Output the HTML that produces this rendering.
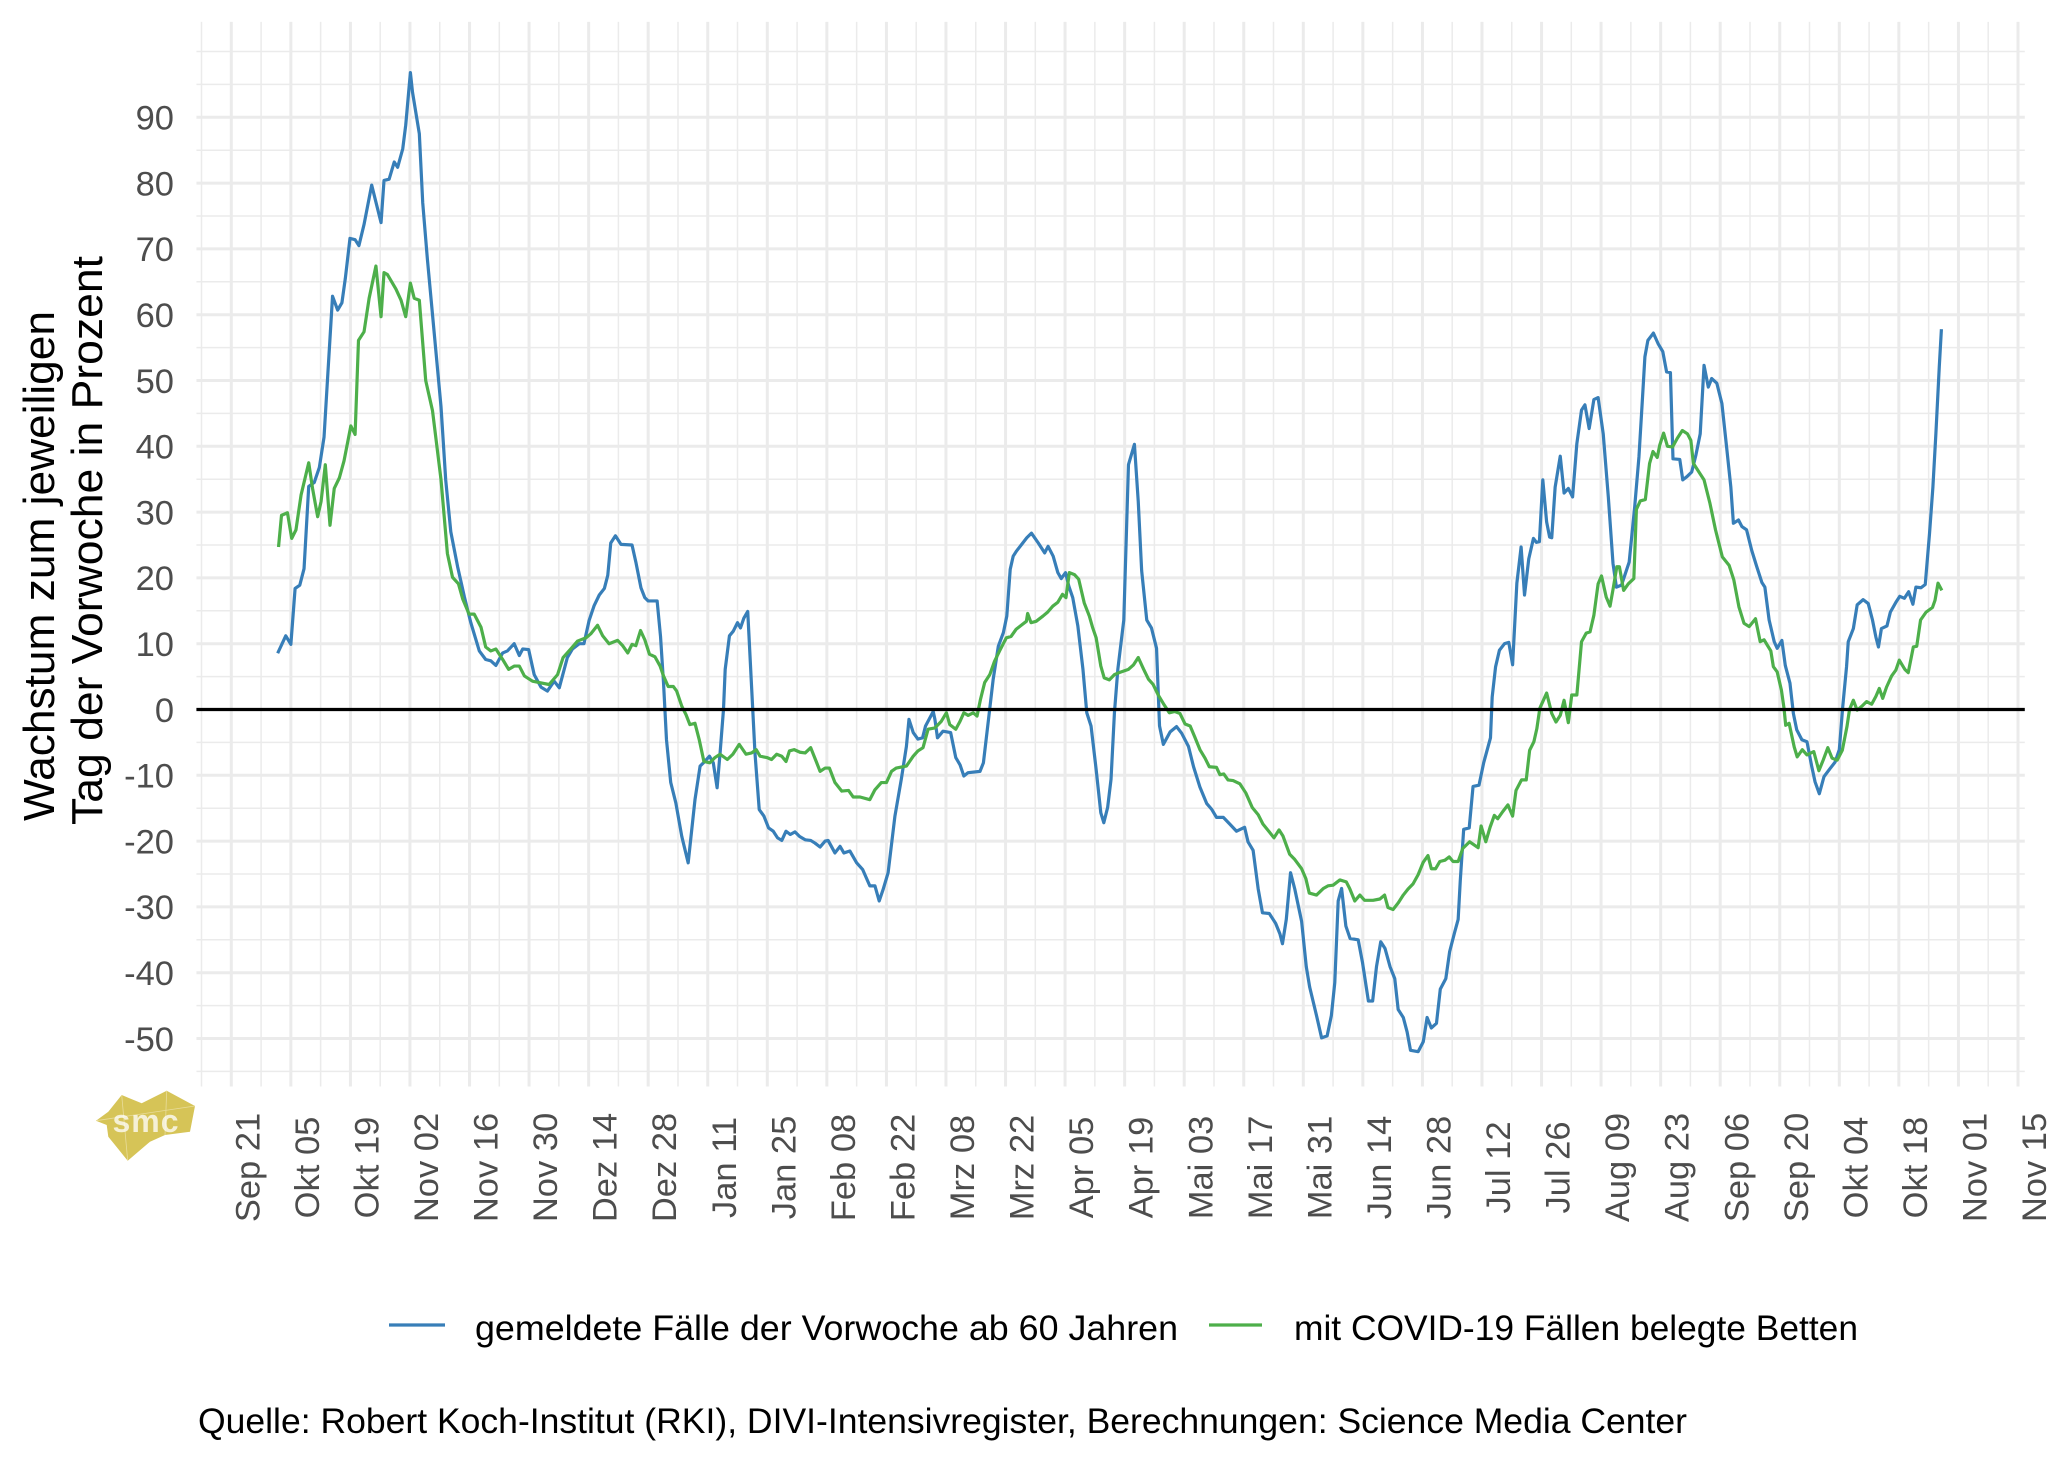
<!DOCTYPE html>
<html>
<head>
<meta charset="utf-8">
<style>
html,body{margin:0;padding:0;background:#fff;}
svg{display:block;}
text{font-family:"Liberation Sans",Arial,sans-serif;}
</style>
</head>
<body>
<svg width="2048" height="1462" viewBox="0 0 2048 1462" xmlns="http://www.w3.org/2000/svg">
<rect x="0" y="0" width="2048" height="1462" fill="#ffffff"/>

<g transform="translate(231.3 709.5) scale(4.254 -6.58)" fill="none">
  <!-- minor grid -->
  <path stroke="#ebebeb" stroke-width="1.5" vector-effect="non-scaling-stroke" d="M-8.2 100H421.6M-8.2 95H421.6M-8.2 85H421.6M-8.2 75H421.6M-8.2 65H421.6M-8.2 55H421.6M-8.2 45H421.6M-8.2 35H421.6M-8.2 25H421.6M-8.2 15H421.6M-8.2 5H421.6M-8.2 -5H421.6M-8.2 -15H421.6M-8.2 -25H421.6M-8.2 -35H421.6M-8.2 -45H421.6M-8.2 -55H421.6
  M-7 104.5V-57.3M7 104.5V-57.3M21 104.5V-57.3M35 104.5V-57.3M49 104.5V-57.3M63 104.5V-57.3M77 104.5V-57.3M91 104.5V-57.3M105 104.5V-57.3M119 104.5V-57.3M133 104.5V-57.3M147 104.5V-57.3M161 104.5V-57.3M175 104.5V-57.3M189 104.5V-57.3M203 104.5V-57.3M217 104.5V-57.3M231 104.5V-57.3M245 104.5V-57.3M259 104.5V-57.3M273 104.5V-57.3M287 104.5V-57.3M301 104.5V-57.3M315 104.5V-57.3M329 104.5V-57.3M343 104.5V-57.3M357 104.5V-57.3M371 104.5V-57.3M385 104.5V-57.3M399 104.5V-57.3M413 104.5V-57.3"/>
  <!-- major grid -->
  <path stroke="#ebebeb" stroke-width="3" vector-effect="non-scaling-stroke" d="M-8.2 90H421.6M-8.2 80H421.6M-8.2 70H421.6M-8.2 60H421.6M-8.2 50H421.6M-8.2 40H421.6M-8.2 30H421.6M-8.2 20H421.6M-8.2 10H421.6M-8.2 0H421.6M-8.2 -10H421.6M-8.2 -20H421.6M-8.2 -30H421.6M-8.2 -40H421.6M-8.2 -50H421.6
  M0 104.5V-57.3M14 104.5V-57.3M28 104.5V-57.3M42 104.5V-57.3M56 104.5V-57.3M70 104.5V-57.3M84 104.5V-57.3M98 104.5V-57.3M112 104.5V-57.3M126 104.5V-57.3M140 104.5V-57.3M154 104.5V-57.3M168 104.5V-57.3M182 104.5V-57.3M196 104.5V-57.3M210 104.5V-57.3M224 104.5V-57.3M238 104.5V-57.3M252 104.5V-57.3M266 104.5V-57.3M280 104.5V-57.3M294 104.5V-57.3M308 104.5V-57.3M322 104.5V-57.3M336 104.5V-57.3M350 104.5V-57.3M364 104.5V-57.3M378 104.5V-57.3M392 104.5V-57.3M406 104.5V-57.3M420 104.5V-57.3"/>

  <!-- blue series -->
  <polyline stroke="#377eb8" stroke-width="3.2" stroke-linejoin="round" stroke-linecap="butt" vector-effect="non-scaling-stroke" points="10.9,8.55 12.8,11.2 14,9.9 15,18.4 16.1,18.9 17.1,21.4 18.2,33.9 19.5,34.5 20.7,36.8 21.8,41.4 22.6,50 23.8,62.8 25,60.7 26,61.8 26.8,65.5 27.9,71.6 29.1,71.4 30,70.5 31.2,73.7 33,79.7 35.2,74 35.9,80.4 37.1,80.6 38.3,83.2 39.1,82.4 40.3,85.2 41,88.8 42.1,96.8 42.6,93.8 44.2,87.5 45,77 46.1,68.4 47.7,57.2 49.3,46 50.4,34.9 51.6,27 53.2,21.7 54.8,17.1 56.3,13.2 58.3,8.9 59.8,7.6 61,7.4 62.2,6.7 63.8,8.6 64.9,8.9 66.5,10 67.7,8.2 68.5,9.2 69.9,9.1 71.2,5.3 72.8,3.4 74.3,2.8 75.9,4.3 77.1,3.3 79,7.9 80.2,9.2 81.8,10 82.9,10 84.1,13.5 85.3,15.8 86.5,17.4 87.7,18.4 88.5,20.4 89.2,25.3 90.3,26.4 91.6,25.1 94.2,25 95.1,22.4 96.3,18.5 97.2,17 98,16.5 100.1,16.5 100.9,11.1 101.6,4.1 102.3,-4.6 103.3,-11.1 104.5,-14.2 105.9,-19.3 107.4,-23.3 109,-13.7 110.2,-8.6 111.3,-7.9 112.4,-7.1 113.3,-8.1 114.2,-11.9 114.9,-6.6 115.7,0 116.1,6.1 117.1,11.2 118,11.9 119,13.2 119.7,12.4 120.5,13.9 121.4,14.9 122.3,3.5 123.1,-6.6 124.1,-15.2 125.2,-16.2 126.3,-18 127.4,-18.5 128.4,-19.5 129.4,-19.9 130.4,-18.5 131.4,-19 132.5,-18.6 133.6,-19.3 134.9,-19.8 136.2,-19.9 137.2,-20.3 138.4,-20.9 139.6,-20 140.3,-19.9 141.9,-21.8 143.1,-20.8 144,-21.8 145.4,-21.5 147,-23.3 148.4,-24.3 150.1,-26.8 151.3,-26.8 152.3,-29.1 153.2,-27.4 154.4,-24.8 156,-16.2 157.5,-10.6 158.7,-5.6 159.3,-1.5 160.3,-3.5 161.4,-4.5 162.5,-4.3 163.2,-2.5 165,-0.3 165.4,-1.5 166,-4.3 167.3,-3.3 169.1,-3.5 170.3,-7.3 171.3,-8.4 172.2,-10.1 173.2,-9.6 176,-9.4 176.8,-8.1 178,-1.5 179.1,4.6 180.3,9.6 181.5,11.7 182.3,14.2 183.1,21.3 183.8,23.3 184.6,24.1 185.8,25.1 187,26.1 188.1,26.8 189.7,25.3 191.2,23.8 192,24.8 193.2,23.3 194.3,20.8 195.1,19.9 196.1,20.8 196.9,18.7 197.8,17 199,12.7 200.2,6.1 201.1,-0.5 202.1,-2.5 203.3,-9.1 204.4,-15.7 205.1,-17.2 206,-14.9 206.8,-10.6 207.6,-0.5 208.4,6.1 209.8,13.6 210.9,37.2 212.3,40.3 213.2,31.6 214,21.1 215.2,13.6 216.3,12.4 217.5,9.3 218.2,-2.5 219.1,-5.3 220.7,-3.4 222.2,-2.6 223.4,-3.6 225,-5.6 226.2,-8.7 227.7,-11.8 229.3,-14.3 230.5,-15.2 231.6,-16.4 233.2,-16.4 234.7,-17.4 236.3,-18.5 238.2,-17.9 239,-20.1 240.2,-21.4 241.4,-27.3 242.4,-30.9 244,-31 245.5,-32.5 246.5,-34.1 247.1,-35.6 248,-31.9 249,-24.8 250,-27.3 251.6,-32.2 252.7,-39.1 253.5,-42.2 255.1,-46.5 256.3,-49.9 257.6,-49.6 258.6,-46.5 259.4,-41.5 260.2,-29.1 261,-27.2 262,-32.9 263,-34.8 264.9,-35 265.9,-38.4 267.3,-44.3 268.3,-44.3 269.2,-39.1 270.2,-35.3 271.2,-36.3 272.4,-39.1 273.5,-40.9 274.3,-45.6 275.5,-46.8 276.4,-49 277.2,-51.8 279,-52 280.2,-50.5 281.1,-46.8 282.1,-48.4 283.3,-47.7 284.2,-42.5 285.5,-40.9 286.4,-36.8 287.6,-33.8 288.4,-31.9 288.9,-26 289.7,-18.2 291,-18 291.9,-11.7 293.3,-11.5 294.4,-8.1 296,-4.3 296.4,1.9 297.2,6.5 298.1,9 299.3,10 300.3,10.2 301.2,6.8 302.2,19.2 303.2,24.7 304,17.4 305,22.9 306.1,26 306.8,25.4 307.5,25.5 308.3,34.9 309.2,28.5 309.9,26.2 310.4,26.1 311.2,33.8 312.4,38.5 313.3,32.9 314.3,33.6 315.3,32.3 316.3,40.4 317.4,45.5 318.2,46.3 319.2,42.7 320.3,47.1 321.3,47.4 322.5,41.9 323.7,32.3 324.8,22.2 325.6,18.6 326.8,18.9 328.6,22.4 329.9,30.8 330.9,38.4 331.7,47 332.3,53.6 333,56.1 334.3,57.2 335.4,55.6 336.5,54.4 337.4,51.3 338.3,51.2 338.9,38.1 340.5,38 341.2,34.9 342.2,35.4 343.3,36.1 344.3,38.7 345.3,41.9 346.2,52.3 347.2,49 348,50.3 349.2,49.6 350.4,46.5 351.5,39.9 352.5,33.8 353.1,28.3 354.3,28.8 355.1,27.8 356.2,27.3 357.4,24.2 358.6,21.7 359.8,19.3 360.5,18.6 361.5,13.6 362.7,10.3 363.4,9.3 364.5,10.5 365.3,6.7 366.4,4 367.2,-0.6 368,-3.1 369.2,-4.6 370.4,-4.9 371.5,-8.6 372.3,-11 373.3,-12.8 374.4,-10.2 375.8,-9 377,-8 378,-6.1 378.8,0.4 379.7,6.5 380.1,10.3 381.3,12.3 382.2,15.9 383.6,16.7 384.8,16.1 385.8,13.6 386.6,11 387.2,9.5 387.9,12.3 389.2,12.7 390,14.8 391.4,16.4 392.2,17.2 393.3,16.9 394.3,17.9 395.3,16 396,18.6 397.2,18.5 398.2,19 399.2,26.7 400,33.8 400.7,41.9 401.5,52.1 402,57.8"/>

  <!-- green series -->
  <polyline stroke="#4daf4a" stroke-width="3.2" stroke-linejoin="round" stroke-linecap="butt" vector-effect="non-scaling-stroke" points="11.1,24.7 11.8,29.5 13.2,29.9 14.2,26 15.2,27.3 16.4,32.6 18.2,37.5 19.1,33.6 20.3,29.3 21.1,31.6 22.1,37.2 23.2,28 24.2,33.6 25.4,35.2 26.5,37.8 28.1,43.1 29.1,41.8 29.9,56.1 31.2,57.4 32.4,62.5 34,67.4 35.2,59.7 35.9,66.4 36.7,66.1 38.7,63.9 39.9,62.2 41,59.7 42.1,64.8 43,62.5 44.2,62.2 45.7,50 47.3,45.4 49.3,34.9 50.8,23.7 52,20.1 53.4,19.1 54.4,16.8 55.9,14.5 57.1,14.5 58.7,12.5 59.8,9.5 61,8.9 62.2,9.2 63.8,7.6 65.2,6.1 66.5,6.6 67.7,6.6 68.9,5.1 70.8,4.3 72.4,4.1 74.7,3.8 76.7,5.3 78,7.9 79.8,9.2 81.4,10.4 83.4,10.9 84.5,11.5 86.1,12.8 87.3,11.2 88.8,10 90.8,10.5 92,9.7 93.2,8.6 94.2,9.9 95.1,9.7 96.2,12 97.2,10.6 98.3,8.4 99.6,8 100.8,6.6 101.6,5.1 102.7,3.5 103.9,3.5 104.7,2.8 105.9,0.5 106.9,-0.8 107.8,-2.3 109,-2.1 110,-4.6 111.1,-7.9 112.5,-8.1 113.7,-7.3 114.9,-6.8 116.6,-7.6 117.9,-6.8 119.4,-5.3 121,-6.8 122.3,-6.6 123.4,-6.1 124.3,-7.1 125.9,-7.3 127,-7.6 128.2,-6.8 129.4,-7.1 130.4,-7.9 131.2,-6.3 132.3,-6.1 133.7,-6.5 134.9,-6.6 136.2,-5.8 137.5,-7.9 138.4,-9.4 139.6,-8.9 140.6,-8.9 141.9,-11.1 143.5,-12.4 145.1,-12.3 146.2,-13.3 147.8,-13.3 150.1,-13.7 151.3,-12.2 152.8,-11.1 154,-11.1 155.2,-9.4 156.3,-8.9 158.7,-8.6 160.3,-7.1 161.4,-6.3 162.6,-5.8 163.8,-3 165.4,-2.8 166.9,-1.8 168.1,-0.5 168.9,-2.3 170.3,-3 171.3,-1.8 172.2,-0.5 173.2,-0.9 174.4,-0.5 175.3,-1 176.1,1.5 177.1,4.1 178.3,5.3 179.4,7.3 180.6,8.9 182.2,10.9 183.3,11.1 184.5,12.2 185.7,12.8 186.9,13.4 187.2,14.6 188,13.2 189.2,13.4 190.8,14.2 191.9,14.8 193.1,15.7 194.3,16.3 195.4,17.5 196.2,17 197,20.8 198.2,20.5 199.2,19.8 200.5,16.2 201.7,14.2 202.5,12.4 203.3,10.9 204.4,6.6 205.2,4.8 206.4,4.5 207.6,5.3 208.7,5.6 210.9,6.1 212.1,6.8 213.2,7.9 214.4,6.2 215.6,4.6 216.7,3.8 217.9,2.2 219.1,0.9 220.5,-0.5 221.8,-0.3 223,-0.6 224.2,-2.2 225.4,-2.5 226.5,-4.2 227.7,-6.1 228.9,-7.4 229.9,-8.7 231.6,-8.8 232.4,-9.9 233.3,-9.8 234.3,-10.7 235.5,-10.8 237.1,-11.3 238.5,-12.7 240,-14.9 241.4,-16 242.5,-17.4 244,-18.6 245.1,-19.5 246.3,-18.3 247.2,-19.2 248.8,-22 250,-22.8 251.6,-24.2 252.6,-25.7 253.4,-27.9 255.1,-28.2 256.7,-27.2 257.8,-26.8 259,-26.7 260.6,-25.9 262.1,-26.2 262.9,-27.2 264.1,-29.1 265.3,-28.2 266.4,-29 268.4,-29 270,-28.8 271.1,-28.2 271.9,-30.1 273.1,-30.4 274.3,-29.4 275.5,-28.2 276.6,-27.3 277.8,-26.5 279,-25.1 280.2,-23.2 281.3,-22.2 282.1,-24.2 283.1,-24.2 284.1,-23.1 285.3,-22.9 286.3,-22.4 287.2,-23.1 288.4,-23.1 289.5,-21.1 291.1,-20.1 293.1,-21 293.8,-17.7 294.9,-20.1 295.9,-17.9 296.9,-16.1 297.7,-16.6 298.9,-15.5 300.1,-14.5 301.2,-16.2 302,-12.3 303.3,-10.7 304.4,-10.7 305.2,-6.2 306.2,-4.9 306.9,-2.9 307.6,0.2 309.2,2.5 310.4,-0.6 311.4,-1.9 312.4,-0.9 313.3,1.4 314.3,-2 315.1,2.2 316.3,2.2 317.4,10.3 318.5,11.6 319.4,11.8 320.3,14.3 321.3,19.1 322.1,20.3 323.2,17.1 324.1,15.7 324.9,18.6 325.7,21.7 326.3,21.7 327.3,18.1 328.4,19.1 329.7,19.9 330.3,30.4 331.2,31.7 332.4,31.9 333.4,37.4 334.2,39.2 335.2,38.3 335.8,40.2 336.7,42 337.6,40 338.8,39.9 339.9,41.2 341.1,42.4 342.3,41.9 343.1,40.9 343.7,37.4 345,36.1 346.2,34.9 347.6,31.3 348.9,27.3 350.5,23.2 352.1,21.9 353.2,19.7 354.4,15.6 355.6,13.1 356.8,12.6 358.3,13.8 359.4,10.3 360.3,10.6 361.9,8.9 362.5,6.5 363.4,5.7 364.4,2.9 365,0.2 365.4,-2.4 366.2,-2.1 367.4,-5.7 368.1,-7.2 369.3,-6.1 370.4,-6.9 372,-6.4 373.2,-9.3 374.2,-7.7 375.3,-5.8 376.3,-7.4 377.5,-7.7 378.7,-6.2 379.8,-2.6 380.4,0 381.3,1.4 382.2,-0.1 383.3,0.5 384.4,1.2 385.6,0.8 386.6,2 387.4,3.2 388.2,1.7 389.1,3.4 390.3,5.1 391.3,6 392.1,7.5 393.4,6.1 394.2,5.6 395.4,9.5 396.2,9.6 397.1,13.6 398.4,14.8 399.9,15.5 400.5,16.6 401.2,19.2 402.1,18.1"/>

  <!-- zero line -->
  <path stroke="#000000" stroke-width="3.2" vector-effect="non-scaling-stroke" d="M-8.2 0H421.6"/>
</g>

<!-- y tick labels -->
<g font-size="34.5" fill="#4d4d4d" text-anchor="end">
  <text x="174" y="129.6">90</text>
  <text x="174" y="195.4">80</text>
  <text x="174" y="261.2">70</text>
  <text x="174" y="327.0">60</text>
  <text x="174" y="392.8">50</text>
  <text x="174" y="458.6">40</text>
  <text x="174" y="524.4">30</text>
  <text x="174" y="590.2">20</text>
  <text x="174" y="656.0">10</text>
  <text x="174" y="721.8">0</text>
  <text x="174" y="787.6">-10</text>
  <text x="174" y="853.4">-20</text>
  <text x="174" y="919.2">-30</text>
  <text x="174" y="985.0">-40</text>
  <text x="174" y="1050.8">-50</text>
</g>

<!-- x tick labels -->
<g font-size="34.5" fill="#4d4d4d" text-anchor="middle">
  <text transform="translate(259.3 1167.5) rotate(-90)">Sep 21</text>
  <text transform="translate(318.9 1167.5) rotate(-90)">Okt 05</text>
  <text transform="translate(378.4 1167.5) rotate(-90)">Okt 19</text>
  <text transform="translate(438.0 1167.5) rotate(-90)">Nov 02</text>
  <text transform="translate(497.5 1167.5) rotate(-90)">Nov 16</text>
  <text transform="translate(557.1 1167.5) rotate(-90)">Nov 30</text>
  <text transform="translate(616.7 1167.5) rotate(-90)">Dez 14</text>
  <text transform="translate(676.2 1167.5) rotate(-90)">Dez 28</text>
  <text transform="translate(735.8 1167.5) rotate(-90)">Jan 11</text>
  <text transform="translate(795.3 1167.5) rotate(-90)">Jan 25</text>
  <text transform="translate(854.9 1167.5) rotate(-90)">Feb 08</text>
  <text transform="translate(914.5 1167.5) rotate(-90)">Feb 22</text>
  <text transform="translate(974.0 1167.5) rotate(-90)">Mrz 08</text>
  <text transform="translate(1033.6 1167.5) rotate(-90)">Mrz 22</text>
  <text transform="translate(1093.1 1167.5) rotate(-90)">Apr 05</text>
  <text transform="translate(1152.7 1167.5) rotate(-90)">Apr 19</text>
  <text transform="translate(1212.3 1167.5) rotate(-90)">Mai 03</text>
  <text transform="translate(1271.8 1167.5) rotate(-90)">Mai 17</text>
  <text transform="translate(1331.4 1167.5) rotate(-90)">Mai 31</text>
  <text transform="translate(1390.9 1167.5) rotate(-90)">Jun 14</text>
  <text transform="translate(1450.5 1167.5) rotate(-90)">Jun 28</text>
  <text transform="translate(1510.1 1167.5) rotate(-90)">Jul 12</text>
  <text transform="translate(1569.6 1167.5) rotate(-90)">Jul 26</text>
  <text transform="translate(1629.2 1167.5) rotate(-90)">Aug 09</text>
  <text transform="translate(1688.7 1167.5) rotate(-90)">Aug 23</text>
  <text transform="translate(1748.3 1167.5) rotate(-90)">Sep 06</text>
  <text transform="translate(1807.9 1167.5) rotate(-90)">Sep 20</text>
  <text transform="translate(1867.4 1167.5) rotate(-90)">Okt 04</text>
  <text transform="translate(1927.0 1167.5) rotate(-90)">Okt 18</text>
  <text transform="translate(1986.5 1167.5) rotate(-90)">Nov 01</text>
  <text transform="translate(2046.1 1167.5) rotate(-90)">Nov 15</text>
</g>

<!-- y axis title -->
<g font-size="44" fill="#000">
  <text transform="translate(54 821) rotate(-90)" textLength="510" lengthAdjust="spacingAndGlyphs">Wachstum zum jeweiligen</text>
  <text transform="translate(102 825) rotate(-90)" textLength="569" lengthAdjust="spacingAndGlyphs">Tag der Vorwoche in Prozent</text>
</g>

<!-- logo -->
<g>
  <polygon points="96,1120.7 108.3,1111.7 121.7,1095 141.7,1103.3 166.7,1090.7 195,1106 190,1131.7 165,1135 150,1141.7 127.7,1160.7 108.3,1136.7 106.7,1125" fill="#d6c457"/>
  <line x1="121.7" y1="1095" x2="127.7" y2="1160.7" stroke="#e8dc9a" stroke-width="0.8"/>
  <line x1="166.7" y1="1090.7" x2="165" y2="1135" stroke="#e8dc9a" stroke-width="0.8"/>
  <line x1="96" y1="1120.7" x2="195" y2="1106" stroke="#e8dc9a" stroke-width="0.8"/>
  <text x="146" y="1132" font-size="32" font-weight="bold" fill="#ffffff" fill-opacity="0.75" text-anchor="middle" letter-spacing="1">smc</text>
</g>

<!-- legend -->
<line x1="389" y1="1325" x2="445" y2="1325" stroke="#377eb8" stroke-width="3.2"/>
<text x="475" y="1340" font-size="35.5" fill="#000" textLength="703" lengthAdjust="spacingAndGlyphs">gemeldete Fälle der Vorwoche ab 60 Jahren</text>
<line x1="1209" y1="1325" x2="1262" y2="1325" stroke="#4daf4a" stroke-width="3.2"/>
<text x="1294" y="1340" font-size="35.5" fill="#000" textLength="564" lengthAdjust="spacingAndGlyphs">mit COVID-19 Fällen belegte Betten</text>

<!-- caption -->
<text x="198" y="1433" font-size="35.5" fill="#000" textLength="1489" lengthAdjust="spacingAndGlyphs">Quelle: Robert Koch-Institut (RKI), DIVI-Intensivregister, Berechnungen: Science Media Center</text>
</svg>
</body>
</html>
